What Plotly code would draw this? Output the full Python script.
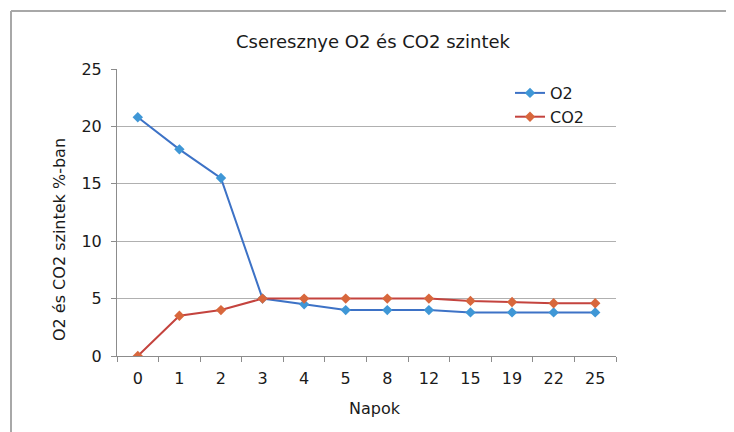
import plotly.graph_objects as go

days = ["0", "1", "2", "3", "4", "5", "8", "12", "15", "19", "22", "25"]
o2 = [20.8, 18.0, 15.5, 5.0, 4.5, 4.0, 4.0, 4.0, 3.8, 3.8, 3.8, 3.8]
co2 = [0.0, 3.5, 4.0, 5.0, 5.0, 5.0, 5.0, 5.0, 4.8, 4.7, 4.6, 4.6]

FONT = "DejaVu Sans"
OFF = 8  # browser body margin offset

fig = go.Figure()
fig.add_trace(go.Scatter(
    x=days, y=o2, name="O2", mode="lines+markers",
    line=dict(color="#3d72c6", width=2),
    marker=dict(symbol="diamond", size=8, color="#3f97d6"),
))
fig.add_trace(go.Scatter(
    x=days, y=co2, name="CO2", mode="lines+markers",
    line=dict(color="#c4433e", width=2),
    marker=dict(symbol="diamond", size=8, color="#d8673c"),
))

# reference-pixel geometry
W, H = 734 - OFF, 432 - OFF
PL, PR, PT, PB = 117 - OFF, 616 - OFF, 69 - OFF, 356 - OFF
pw, ph = PR - PL, PB - PT

def px(x):
    return (x - OFF - PL) / pw

def py(y):
    return (PB - (y - OFF)) / ph

fig.update_layout(
    width=W, height=H,
    margin=dict(l=PL, r=W - PR, t=PT, b=H - PB),
    paper_bgcolor="white", plot_bgcolor="white",
    font=dict(family=FONT, size=16, color="#1a1a1a"),
    title=dict(text="Cseresznye O2 és CO2 szintek", x=(373 - OFF) / W, xanchor="center",
               y=1 - (42 - OFF) / H, yanchor="middle", font=dict(size=18)),
    showlegend=True,
    legend=dict(x=px(510), y=py(76), xanchor="left", yanchor="top",
                bgcolor="rgba(0,0,0,0)", font=dict(size=16), tracegroupgap=2),
    xaxis=dict(
        type="category", range=[-0.5, 11.5], tickson="boundaries",
        showgrid=False, showline=True, linecolor="#8c8c8c", linewidth=1,
        ticks="outside", ticklen=5, tickcolor="#8c8c8c",
        ticklabelstandoff=8,
        tickfont=dict(size=16),
    ),
    yaxis=dict(
        range=[0, 25], dtick=5, showgrid=True, gridcolor="#b0b0b0", gridwidth=1,
        showline=True, linecolor="#8c8c8c", linewidth=1,
        ticks="outside", ticklen=5, tickcolor="#8c8c8c",
        ticklabelstandoff=6,
        zeroline=False,
        tickfont=dict(size=16),
    ),
    annotations=[
        dict(text="Napok", xref="paper", yref="paper", x=px(375), y=py(408),
             xanchor="center", yanchor="middle", showarrow=False, font=dict(size=16)),
        dict(text="O2 és CO2 szintek %-ban", xref="paper", yref="paper",
             x=px(59), y=py(240), textangle=-90,
             xanchor="center", yanchor="middle", showarrow=False, font=dict(size=16)),
    ],
    shapes=[
        dict(type="line", xref="paper", yref="paper",
             x0=px(11), x1=px(740), y0=py(11), y1=py(11),
             line=dict(color="#a8a8a8", width=2)),
        dict(type="line", xref="paper", yref="paper",
             x0=px(11), x1=px(11), y0=py(11), y1=py(440),
             line=dict(color="#a8a8a8", width=2)),
    ],
)

fig.write_html("out.html")
